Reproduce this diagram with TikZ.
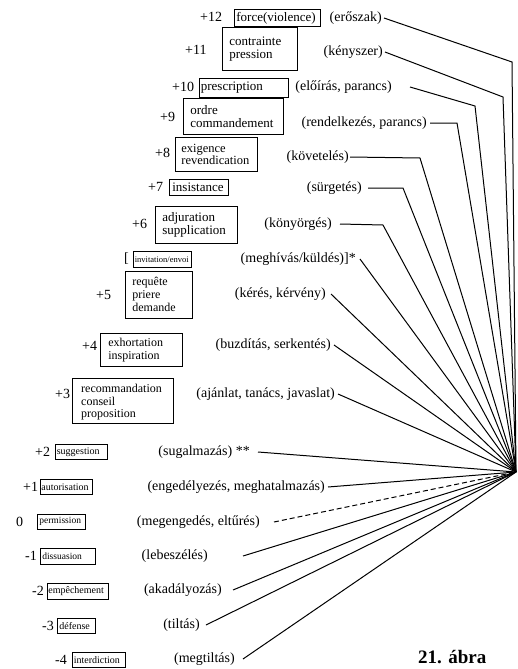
\documentclass[tikz,border=0pt]{standalone}
\usepackage{fontspec}
\setmainfont{Liberation Serif}
\begin{document}
\begin{tikzpicture}[x=1pt,y=-1pt,
 hu/.style={anchor=east,inner sep=0pt,font=\fontsize{14}{16}\selectfont},
 num/.style={anchor=west,inner sep=0pt,font=\fontsize{14}{16}\selectfont},
 bx/.style={draw,line width=0.7pt,anchor=north west,inner ysep=0pt,align=left},
 conn/.style={line width=1pt},
 fs/.style={font=\fontsize{#1}{#1}\selectfont},
]
\useasboundingbox (0,0) rectangle (518,669);

% apex and bends
\coordinate (A) at (516,472);
\coordinate (c12) at (512,62);
\coordinate (c11) at (503,97);
\coordinate (c10) at (475,106);
\coordinate (c9) at (457,123);
\coordinate (c8) at (420,158);
\coordinate (c7) at (403,188);
\coordinate (c6) at (383,225);

% numbers
\node[num] (n12) at (200,17) {+12};
\node[num] (n11) at (185,50) {+11};
\node[num] (n10) at (172,87) {+10};
\node[num] (n9) at (160,117) {+9};
\node[num] (n8) at (155,153) {+8};
\node[num] (n7) at (148,187) {+7};
\node[num] (n6) at (132,224) {+6};
\node[num] (ninv) at (124,259) {[};
\node[num] (n5) at (96,295) {+5};
\node[num] (n4) at (82,346) {+4};
\node[num] (n3) at (55,394) {+3};
\node[num] (n2) at (35,452) {+2};
\node[num] (n1) at (23,487) {+1};
\node[num] (n0) at (16,522) {0};
\node[num] (nm1) at (25,556) {-1};
\node[num] (nm2) at (32,591) {-2};
\node[num] (nm3) at (42,626) {-3};
\node[num] (nm4) at (55,660) {-4};

% boxes
\node[bx,fs=13,inner xsep=2pt,text width=82pt,minimum height=17pt] (b12) at (234,9) {force(violence)};
\node[bx,fs=13,inner xsep=7pt,text width=61pt,minimum height=43pt] (b11) at (222,27) {contrainte\\pression};
\node[bx,fs=13,inner xsep=1.5pt,text width=86pt,minimum height=19pt] (b10) at (199,78) {prescription};
\node[bx,fs=13,inner xsep=7pt,text width=86pt,minimum height=36pt] (b9) at (183,98) {ordre\\commandement};
\node[bx,fs=12.5,inner xsep=6pt,text width=70pt,minimum height=34pt] (b8) at (175,137) {exigence\\revendication};
\node[bx,fs=13,inner xsep=3pt,text width=53pt,minimum height=16pt] (b7) at (169,179) {insistance};
\node[bx,fs=13,inner xsep=7pt,text width=68pt,minimum height=37pt] (b6) at (155,206) {adjuration\\supplication};
\node[bx,fs=8.5,inner xsep=1.5pt,text width=55pt,minimum height=16pt] (binv) at (133,251) {invitation/envoi};
\node[bx,font=\fontsize{12}{13}\selectfont,inner xsep=7pt,text width=53pt,minimum height=47pt] (b5) at (125,271) {requête\\priere\\demande};
\node[bx,font=\fontsize{12}{13}\selectfont,inner xsep=8pt,text width=66pt,minimum height=33pt] (b4) at (100,333) {exhortation\\inspiration};
\node[bx,inner xsep=0pt,minimum width=101pt,minimum height=45pt] (b3) at (72,378) {};
\begin{scope}
\clip (b3.north west) rectangle (b3.south east);
\node[anchor=north west,inner xsep=9pt,inner ysep=6pt,align=left,font=\fontsize{12}{12.5}\selectfont] (t3) at (b3.north west) {recommandation\\conseil\\proposition};
\end{scope}
\node[bx,fs=10,inner xsep=1.5pt,text width=49pt,minimum height=15pt] (b2) at (55,444) {suggestion};
\node[bx,fs=10,inner xsep=1pt,text width=50pt,minimum height=15pt] (b1) at (40,479) {autorisation};
\node[bx,fs=9.5,inner xsep=2pt,text width=44pt,minimum height=15pt] (b0) at (37,514) {permission};
\node[bx,fs=9.5,inner xsep=2pt,text width=51pt,minimum height=16pt] (bm1) at (40,548) {dissuasion};
\node[bx,fs=10,inner xsep=1pt,text width=59pt,minimum height=16pt] (bm2) at (47,583) {empêchement};
\node[bx,fs=10,inner xsep=2pt,text width=34pt,minimum height=15pt] (bm3) at (57,618) {défense};
\node[bx,fs=10,inner xsep=1.5pt,text width=50pt,minimum height=15pt] (bm4) at (72,652) {interdiction};

% hungarian labels
\node[hu] (h12) at (382,18) {(erőszak)};
\node[hu] (h11) at (383,52) {(kényszer)};
\node[hu] (h10) at (392,87) {(előírás, parancs)};
\node[hu] (h9) at (427,123) {(rendelkezés, parancs)};
\node[hu] (h8) at (349,157) {(követelés)};
\node[hu] (h7) at (362,188) {(sürgetés)};
\node[hu] (h6) at (332,224) {(könyörgés)};
\node[hu] (hinv) at (356,259) {(meghívás/küldés)]*};
\node[hu] (h5) at (326,294) {(kérés, kérvény)};
\node[hu] (h4) at (331,345) {(buzdítás, serkentés)};
\node[hu] (h3) at (335,394) {(ajánlat, tanács, javaslat)};
\node[hu] (h2) at (250,452) {(sugalmazás) **};
\node[hu] (h1) at (325,487) {(engedélyezés, meghatalmazás)};
\node[hu] (h0) at (260,522) {(megengedés, eltűrés)};
\node[hu] (hm1) at (208,556) {(lebeszélés)};
\node[hu] (hm2) at (222,590) {(akadályozás)};
\node[hu] (hm3) at (200,625) {(tiltás)};
\node[hu] (hm4) at (235,659) {(megtiltás)};

\node[anchor=base west,inner sep=0pt,font=\bfseries\fontsize{19}{20}\selectfont] (cap) at (418,663) {21. ábra};

% connectors
\draw[conn] ([xshift=2pt]h12.east) -- (c12) -- (A);
\draw[conn] ([xshift=2pt]h11.east) -- (c11) -- (A);
\draw[conn] ([xshift=18pt]h10.east) -- (c10) -- (A);
\draw[conn] ([xshift=3pt]h9.east) -- (c9) -- (A);
\draw[conn] ([xshift=1pt]h8.east) -- (c8) -- (A);
\draw[conn] ([xshift=6pt]h7.east) -- (c7) -- (A);
\draw[conn] ([xshift=8pt]h6.east) -- (c6) -- (A);
\draw[conn] ([xshift=4pt]hinv.east) -- (A);
\draw[conn] ([xshift=5pt]h5.east) -- (A);
\draw[conn] ([xshift=3pt]h4.east) -- (A);
\draw[conn] ([xshift=3pt]h3.east) -- (A);
\draw[conn] ([xshift=8pt]h2.east) -- (A);
\draw[conn] ([xshift=3pt]h1.east) -- (A);
\draw[conn,dash pattern=on 5pt off 3pt] ([xshift=14pt]h0.east) -- (A);
\draw[conn] ([xshift=35pt]hm1.east) -- (A);
\draw[conn] ([xshift=11pt]hm2.east) -- (A);
\draw[conn] ([xshift=6pt]hm3.east) -- (A);
\draw[conn] ([xshift=8pt]hm4.east) -- (A);
\end{tikzpicture}
\end{document}
